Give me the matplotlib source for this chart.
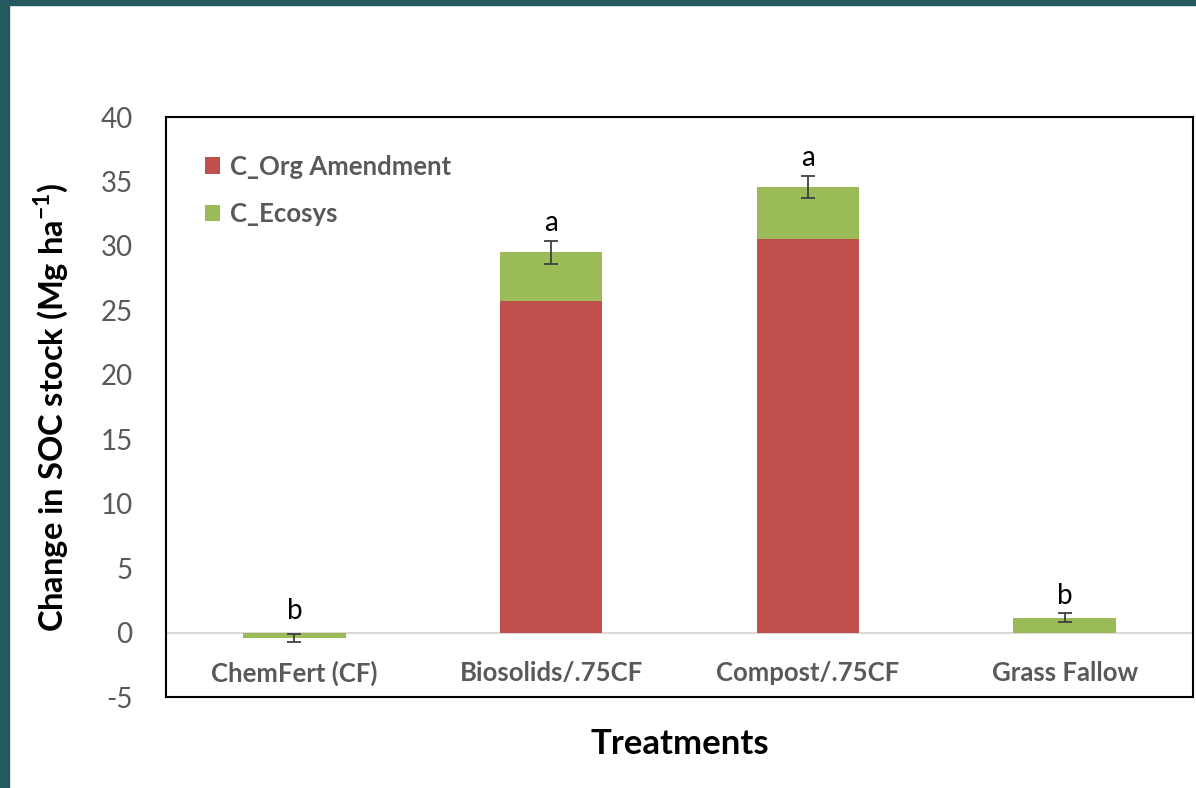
import numpy as np
import matplotlib.pyplot as plt
from matplotlib.patches import Rectangle

plt.rcParams['font.family'] = ['Lato', 'DejaVu Sans']
plt.rcParams['axes.unicode_minus'] = False
plt.rcParams['mathtext.fontset'] = 'custom'
plt.rcParams['mathtext.rm'] = 'Lato'
plt.rcParams['mathtext.bf'] = 'Lato:bold'

# Change in SOC stock by treatment (Mg ha-1)
treatments = ['ChemFert (CF)', 'Biosolids/.75CF', 'Compost/.75CF', 'Grass Fallow']
c_org_amendment = [0.0, 25.7, 30.5, 0.0]
c_ecosys = [-0.4, 3.8, 4.1, 1.15]
err = [0.3, 0.9, 0.85, 0.35]
letters = ['b', 'a', 'a', 'b']

red = '#c0504d'
green = '#9bbb59'
gray = '#595959'

fig = plt.figure(figsize=(11.96, 7.88), dpi=100)

# slide frame along the top and left edges
fig.patches.append(Rectangle((0, 1 - 5 / 788), 1, 5 / 788, transform=fig.transFigure,
                             color='#24595f', zorder=0))
fig.patches.append(Rectangle((0, 0), 9 / 1196, 1, transform=fig.transFigure,
                             color='#24595f', zorder=0))

ax = fig.add_axes([166 / 1196, 91 / 788, 1027 / 1196, 580 / 788])

x = np.arange(len(treatments))
width = 0.4
ax.bar(x, c_org_amendment, width, color=red, label='C_Org Amendment', zorder=2)
ax.bar(x, c_ecosys, width, bottom=c_org_amendment, color=green, label='C_Ecosys', zorder=2)

totals = np.array(c_org_amendment) + np.array(c_ecosys)
ax.errorbar(x, totals, yerr=err, fmt='none', ecolor='#404040', elinewidth=1.3,
            capsize=5, capthick=1.3, zorder=3)

for xi, t, e, lab in zip(x, totals, err, letters):
    top = max(t, 0) + e
    ax.text(xi, top + 0.35, lab, ha='center', va='bottom', fontsize=20, color='black')

ax.axhline(0, color='#d9d9d9', linewidth=1.5, zorder=1)

ax.set_xlim(-0.5, len(treatments) - 0.5)
ax.set_ylim(-5, 40)
ax.set_yticks(np.arange(-5, 41, 5))
ax.tick_params(axis='both', length=0)
ax.tick_params(axis='y', labelsize=20, labelcolor=gray, pad=24)
ax.tick_params(axis='x', pad=-26)
ax.set_xticks(x)
ax.set_xticklabels(treatments, fontsize=18.5, fontweight='bold', color=gray)

for s in ax.spines.values():
    s.set_linewidth(1.5)
    s.set_color('black')

ax.set_xlabel('Treatments', fontsize=25, fontweight='bold', labelpad=22)
ax.set_ylabel('Change in SOC stock (Mg ha$^{\\mathbf{-1}}$)', fontsize=23.5,
              fontweight='bold', labelpad=22)

leg = ax.legend(loc='upper left', bbox_to_anchor=(0.015, 0.975), frameon=False,
                fontsize=18.5, handlelength=0.6, handleheight=0.6, handletextpad=0.4,
                labelspacing=0.9)
for t in leg.get_texts():
    t.set_color(gray)
    t.set_fontweight('bold')

fig.savefig('out.png', dpi=100)
